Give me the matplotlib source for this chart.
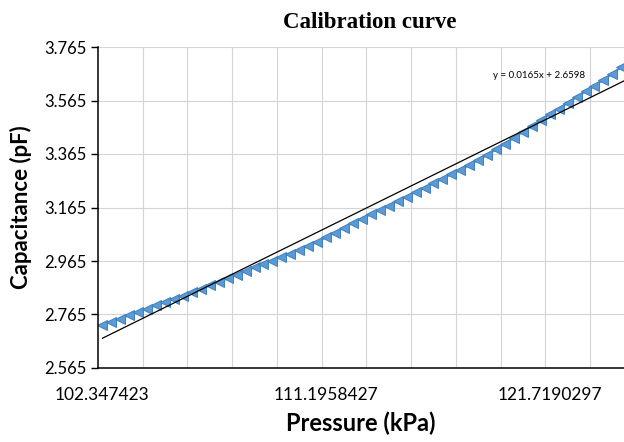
import numpy as np
import matplotlib.pyplot as plt

# ------------------------- 数据 -------------------------
# 电容读数 (pF)，按采样点顺序排列
capacitance = [
    2.726, 2.738, 2.750, 2.762, 2.775, 2.787, 2.799, 2.811, 2.823, 2.836,
    2.848, 2.861, 2.874, 2.887, 2.900, 2.913, 2.927, 2.941, 2.954, 2.966,
    2.979, 2.993, 3.007, 3.021, 3.036, 3.053, 3.071, 3.090, 3.108, 3.123,
    3.139, 3.156, 3.172, 3.189, 3.206, 3.223, 3.239, 3.256, 3.272, 3.289,
    3.305, 3.323, 3.342, 3.361, 3.382, 3.404, 3.426, 3.448, 3.470, 3.492,
    3.513, 3.535, 3.556, 3.578, 3.599, 3.620, 3.642, 3.665, 3.690,
]
# 横轴只标出部分压力值 (kPa)
pressure_ticks = [1, 26, 51]
pressure_labels = ['102.347423', '111.1958427', '121.7190297']

# 线性趋势线 y = 0.0165x + 2.6598
k_fit, b_fit = 0.0165, 2.6598

y_ticks = [2.565, 2.765, 2.965, 3.165, 3.365, 3.565, 3.765]

# ------------------------- 绘图 -------------------------
idx = np.arange(1, len(capacitance) + 1)

fig = plt.figure(figsize=(6.24, 4.42), dpi=100)
ax = fig.add_axes([98 / 624, 74 / 442, 526 / 624, 321 / 442])

# 网格：每5个点一条竖线
for xg in np.arange(5.5, 60, 5):
    ax.axvline(xg, color='#d4d4d4', lw=0.8, zorder=0)
for yg in y_ticks:
    ax.axhline(yg, color='#d4d4d4', lw=0.8, zorder=0)

ax.plot(idx, capacitance, color='#5b9bd5', lw=1.5, marker='<', ms=7.5,
        mfc='#5b9bd5', mec='#3f7fc0', mew=0.7, zorder=2, clip_on=True)
xl = np.array([1, 60])
ax.plot(xl, k_fit * xl + b_fit, color='black', lw=0.9, zorder=3)

ax.text(49.8, 3.660, 'y = 0.0165x + 2.6598', fontsize=7, family='Lato',
        ha='center', va='center')

ax.set_xlim(0.5, 59.3)
ax.set_ylim(2.565, 3.765)
ax.set_yticks(y_ticks)
ax.set_yticklabels(['%.3f' % v for v in y_ticks], fontsize=12, family='Lato')
ax.set_xticks(pressure_ticks)
ax.set_xticklabels(pressure_labels, fontsize=12.5, family='Lato')
ax.tick_params(axis='y', direction='out', length=5, width=1, pad=3)
ax.tick_params(axis='x', length=0, pad=14)

for s in ['top', 'right']:
    ax.spines[s].set_visible(False)
for s in ['left', 'bottom']:
    ax.spines[s].set_linewidth(1.1)
    ax.spines[s].set_color('black')

ax.set_xlabel('Pressure (kPa)', fontsize=17, fontweight='bold', family='Lato', labelpad=6)
ax.set_ylabel('Capacitance (pF)', fontsize=16, fontweight='bold', family='Lato', labelpad=9)
fig.text(0.593, 0.950, 'Calibration curve', fontsize=16.5, fontweight='bold',
         family='Liberation Serif', ha='center', va='center')

fig.savefig('out.png', dpi=100)
